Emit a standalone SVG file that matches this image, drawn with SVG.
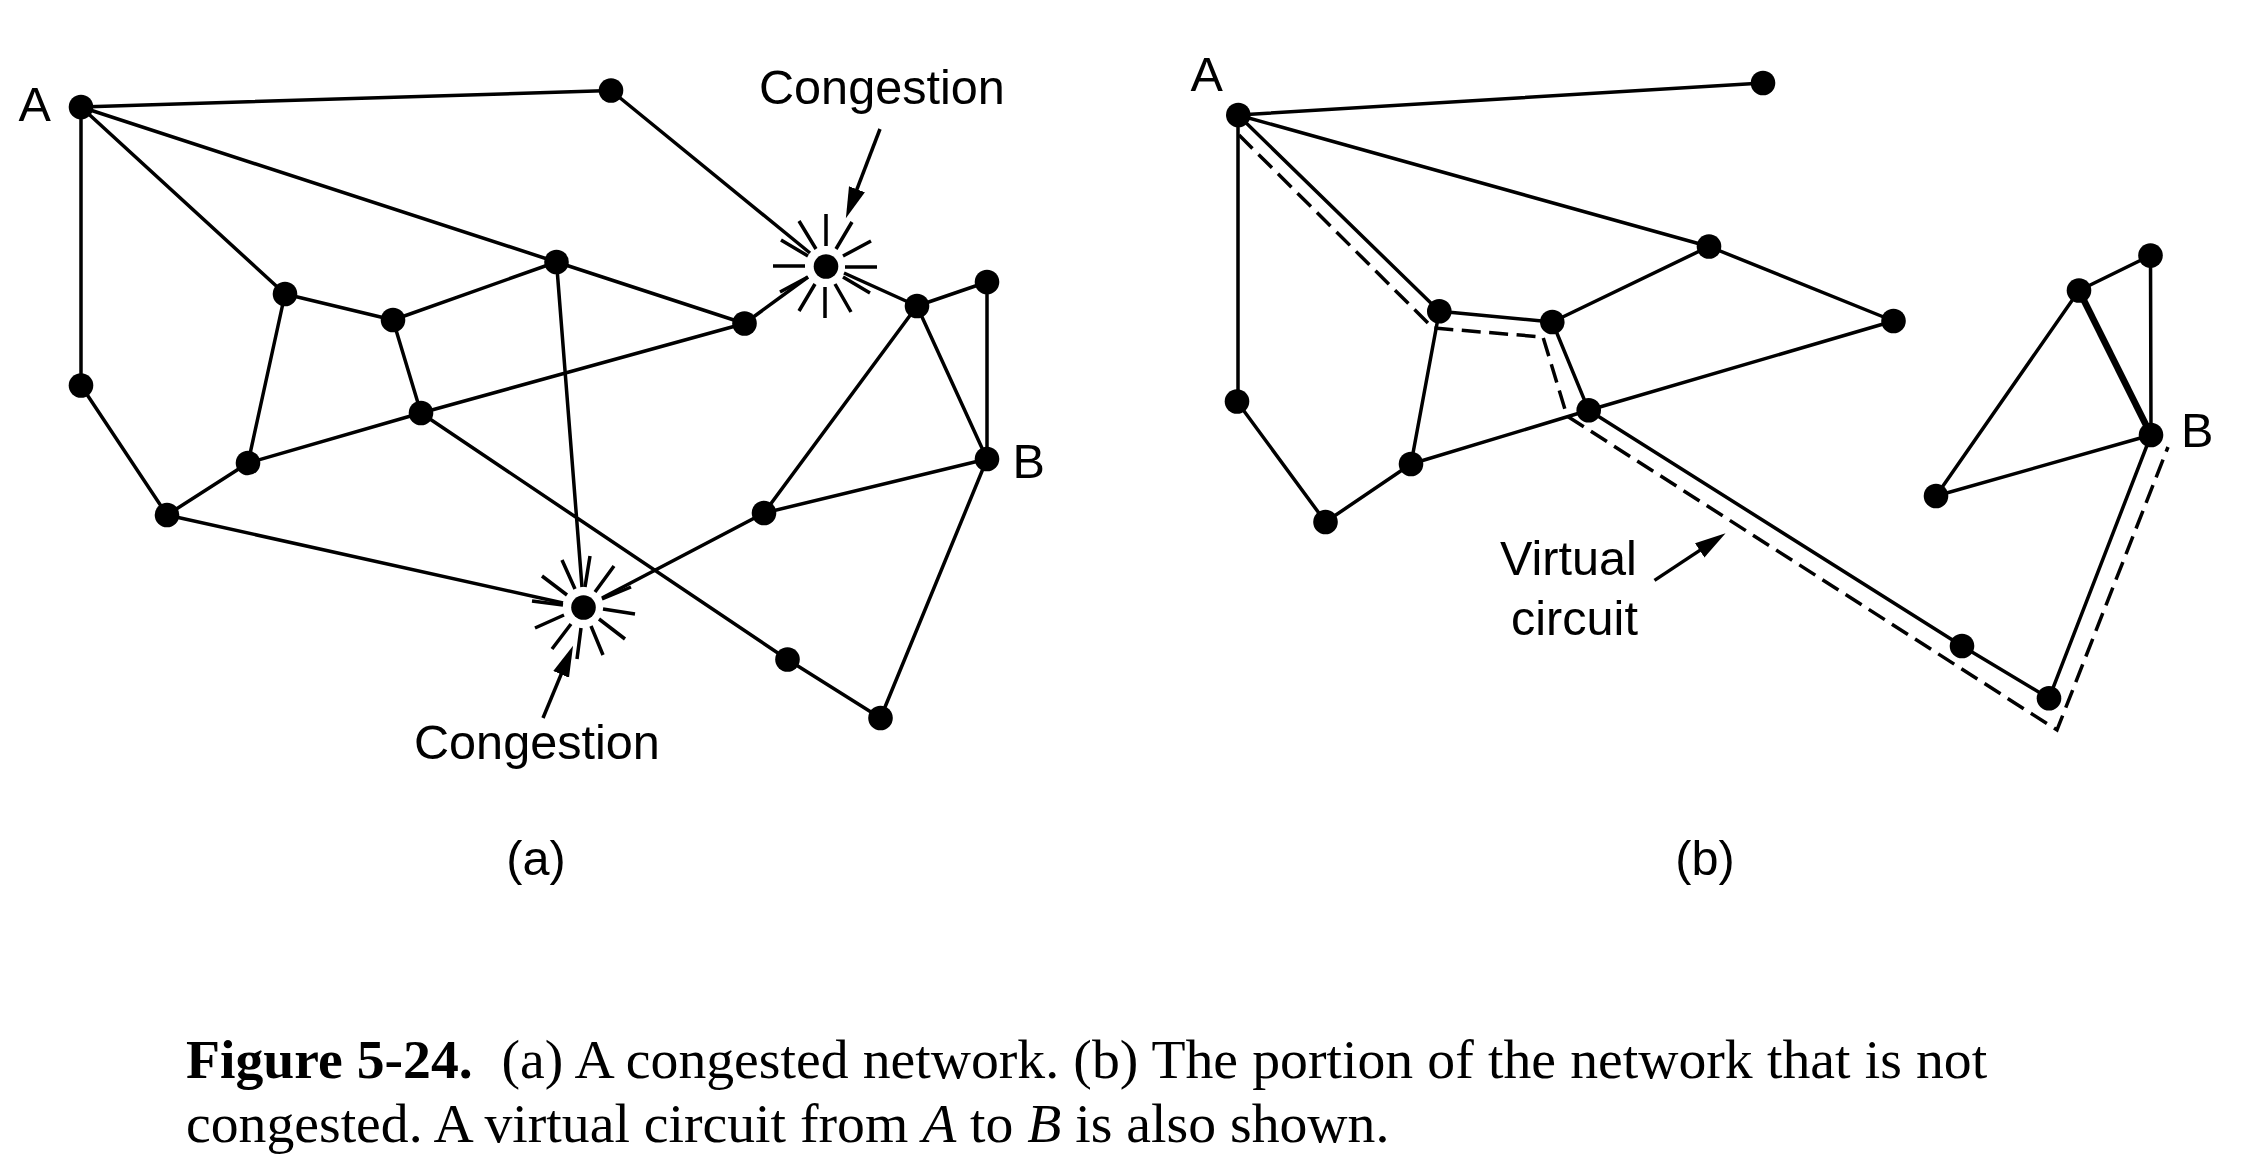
<svg xmlns="http://www.w3.org/2000/svg" width="2242" height="1172" viewBox="0 0 2242 1172">
<style>
.e{stroke:#000;stroke-width:3.5;fill:none;stroke-linecap:butt}
.t{stroke-width:6.6}
.s{stroke:#000;stroke-width:3.5;fill:none}
.d{stroke:#000;stroke-width:3.5;fill:none;stroke-dasharray:19 8.5}
.a{stroke:#000;stroke-width:3.5;fill:none;marker-end:url(#ah)}
.n{fill:#000}
.l{font-family:"Liberation Sans",Arial,sans-serif;font-size:48.6px;fill:#000}
.c{font-family:"Liberation Serif","Times New Roman",serif;font-size:55.7px;fill:#000}
</style>
<defs>
<marker id="ah" markerUnits="userSpaceOnUse" markerWidth="33" markerHeight="19" refX="20" refY="9.5" orient="auto"><path d="M0 1L31 9.5L0 18Z" fill="#000"/></marker>
</defs>
<rect width="2242" height="1172" fill="#fff"/>
<g id="connectors">
<path class="e" d="M81 107L611 90.5M611 90.5L810 253M81 107L556.5 262M556.5 262L744.5 323.5M744.5 323.5L808 277M81 107L285 294M81 107V385.5M81 385.5L167 515M167 515L248 463M248 463L285 294M285 294L393 320M393 320L556.5 262M393 320L421 413M248 463L421 413M421 413L744.5 323.5M421 413L787.5 659.5M787.5 659.5L880.5 718M880.5 718L987 459M987 459V282M987 282L917 306M917 306L987 459M917 306L764 513M764 513L987 459M764 513L602 598M167 515L563 603M556.5 262L582 587M917 306L844 273"/>
<path class="e" d="M1238 115L1763 83M1238 115L1709 246.5M1238 115L1439.3 311.3M1238 115V401M1237 401.5L1325.5 522M1325.5 522L1411 464M1411 464L1439.3 311.3M1439.3 311.3L1552.3 322M1552.3 322L1709 246.5M1709 246.5L1893.5 321M1893.5 321L1588.7 410.3M1588.7 410.3L1411 464M1552.3 322L1588.7 410.3M1588.7 410.3L1962 646M1962 646L2049 698.3M2049 698.3L2151 435M2151 435L2150.5 255.5M2150.5 255.5L2079 290.5M2079 290.5L1936 496M1936 496L2151 435"/>
<path class="e t" d="M2079 290.5L2151 435"/>
<path class="d" d="M1239 135L1433 328L1543 337L1567 416L2057 730L2168 447"/>
</g>
<g id="congestion-marks">
<path class="s" d="M826 214V246M799 221L816 249M781 240L808 256M773 266H805M780 292L808 277M799 311L815 284M825 318V287M851 312L835 284M870 293L843 277M877 267H845M871 241L843 256M852 222L836 249"/>
<path class="s" d="M590 556L585 587M614 566L595 592M631 587L602 599M635 614L603 609M625 639L599 619M603 655L591 626M577 659L581 628M552 649L571 624M535 628L564 615M532 601L563 605M542 576L567 595M562 560L575 589"/>
</g>
<g id="arrows">
<path class="a" d="M880 129L849.8 207.9"/>
<path class="a" d="M543 718L568.8 655.9"/>
<path class="a" d="M1654.5 580.4L1716.4 539.4"/>
</g>
<g id="panel-a">
<g id="a-A"><circle class="n" cx="81" cy="107" r="12.3"/><text class="l" x="18.5" y="120.5">A</text></g>
<g id="a-top"><circle class="n" cx="611" cy="90.5" r="12.3"/></g>
<g id="a-c1"><circle class="n" cx="826" cy="266.5" r="12.3"/></g>
<g id="a-n"><circle class="n" cx="556.5" cy="262" r="12.3"/></g>
<g id="a-r"><circle class="n" cx="744.5" cy="323.5" r="12.3"/></g>
<g id="a-m"><circle class="n" cx="285" cy="294" r="12.3"/></g>
<g id="a-p"><circle class="n" cx="393" cy="320" r="12.3"/></g>
<g id="a-q"><circle class="n" cx="421" cy="413" r="12.3"/></g>
<g id="a-s"><circle class="n" cx="248" cy="463" r="12.3"/></g>
<g id="a-u"><circle class="n" cx="167" cy="515" r="12.3"/></g>
<g id="a-l"><circle class="n" cx="81" cy="385.5" r="12.3"/></g>
<g id="a-c2"><circle class="n" cx="583.5" cy="607.5" r="12.3"/></g>
<g id="a-v"><circle class="n" cx="764" cy="513" r="12.3"/></g>
<g id="a-B"><circle class="n" cx="987" cy="459" r="12.3"/><text class="l" x="1012.5" y="478">B</text></g>
<g id="a-w"><circle class="n" cx="917" cy="306" r="12.3"/></g>
<g id="a-x"><circle class="n" cx="987" cy="282" r="12.3"/></g>
<g id="a-y"><circle class="n" cx="787.5" cy="659.5" r="12.3"/></g>
<g id="a-z"><circle class="n" cx="880.5" cy="718" r="12.3"/></g>
</g>
<g id="panel-b">
<g id="b-A"><circle class="n" cx="1238.3" cy="115" r="12.3"/><text class="l" x="1190.5" y="91">A</text></g>
<g id="b-top"><circle class="n" cx="1763" cy="83" r="12.3"/></g>
<g id="b-c"><circle class="n" cx="1709" cy="246.5" r="12.3"/></g>
<g id="b-d"><circle class="n" cx="1893.5" cy="321" r="12.3"/></g>
<g id="b-e"><circle class="n" cx="1439.3" cy="311.3" r="12.3"/></g>
<g id="b-f"><circle class="n" cx="1552.3" cy="322" r="12.3"/></g>
<g id="b-g"><circle class="n" cx="1588.7" cy="410.3" r="12.3"/></g>
<g id="b-h"><circle class="n" cx="1411" cy="464" r="12.3"/></g>
<g id="b-i"><circle class="n" cx="1325.5" cy="522" r="12.3"/></g>
<g id="b-j"><circle class="n" cx="1237" cy="401.5" r="12.3"/></g>
<g id="b-k"><circle class="n" cx="1936" cy="496" r="12.3"/></g>
<g id="b-B"><circle class="n" cx="2151" cy="435" r="12.3"/><text class="l" x="2181" y="447">B</text></g>
<g id="b-w"><circle class="n" cx="2079" cy="290.5" r="12.3"/></g>
<g id="b-x"><circle class="n" cx="2150.5" cy="255.5" r="12.3"/></g>
<g id="b-y"><circle class="n" cx="1962" cy="646" r="12.3"/></g>
<g id="b-z"><circle class="n" cx="2049" cy="698.3" r="12.3"/></g>
</g>
<g id="labels">
<text class="l" x="759" y="104">Congestion</text>
<text class="l" x="414" y="759">Congestion</text>
<text class="l" x="1500" y="575">Virtual</text>
<text class="l" x="1511" y="635">circuit</text>
<text class="l" x="536" y="875" text-anchor="middle">(a)</text>
<text class="l" x="1705" y="875" text-anchor="middle">(b)</text>
</g>
<g id="caption">
<text class="c" x="186" y="1078"><tspan font-weight="bold">Figure 5-24.</tspan> <tspan x="501.5" word-spacing="0.3">(a) A congested network. (b) The portion of the network that is not</tspan></text>
<text class="c" x="186" y="1142">congested. A virtual circuit from <tspan font-style="italic">A</tspan> to <tspan font-style="italic">B</tspan> is also shown.</text>
</g>
</svg>
